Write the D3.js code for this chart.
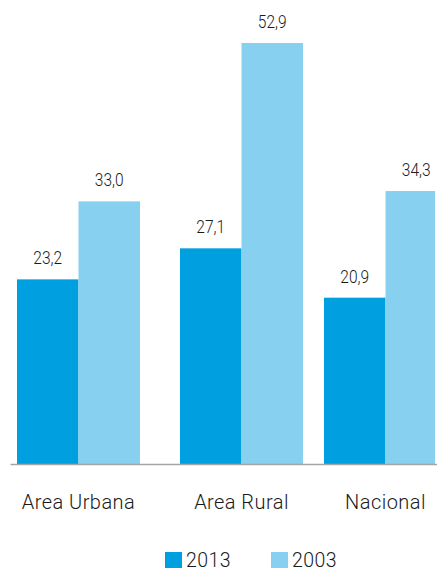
<!DOCTYPE html>
<html><head><meta charset="utf-8">
<script src="https://cdn.jsdelivr.net/npm/d3@7"></script>
<style>
body{margin:0;background:#fff;}
svg{display:block;}
</style></head>
<body>
<svg id="chart" width="437" height="568"></svg>
<script>
const categories = ["Area Urbana", "Area Rural", "Nacional"];
const series = ["2013", "2003"];
const values2013 = [23.2, 27.1, 20.9];
const values2003 = [33.0, 52.9, 34.3];
const valueLabels2013 = ["23,2", "27,1", "20,9"];
const valueLabels2003 = ["33,0", "52,9", "34,3"];

const colors = {"2013": "#009fdf", "2003": "#88d0ef"};
const W = 437, H = 568;
const baseY = 464;
const svg = d3.select("#chart");
const font = "Roboto, 'Liberation Sans', Arial, sans-serif";

const y = d3.scaleLinear().domain([0, 52.9]).range([baseY, 43]);
const x0 = d3.scaleOrdinal().domain(categories).range([17, 180, 324]);
const x1 = d3.scaleBand().domain(series).range([0, 123]).padding(0);

svg.append("defs").append("clipPath").attr("id","clip")
  .append("rect").attr("x",0).attr("y",0).attr("width",435).attr("height",H);

const data = categories.map((c,i)=>({
  cat:c,
  vals:[{s:"2013", v:values2013[i], l:valueLabels2013[i]},{s:"2003", v:values2003[i], l:valueLabels2003[i]}]
}));

const g = svg.append("g").attr("clip-path","url(#clip)");
const groups = g.selectAll("g.grp").data(data).enter().append("g")
  .attr("transform", d=>`translate(${x0(d.cat)},0)`);
groups.selectAll("rect").data(d=>d.vals).enter().append("rect")
  .attr("x", d=>x1(d.s)).attr("width", x1.bandwidth())
  .attr("y", d=>y(d.v)).attr("height", d=>baseY - y(d.v))
  .attr("fill", d=>colors[d.s]);

// value labels (condensed look)
const lg = svg.append("g");
data.forEach(d=>{
  d.vals.forEach(v=>{
    const cx = x0(d.cat) + x1(v.s) + x1.bandwidth()/2;
    lg.append("text")
      .attr("transform", `translate(${cx},${y(v.v) - 15}) scale(0.84,1)`)
      .attr("text-anchor","middle")
      .attr("font-family", font)
      .attr("font-weight", 300)
      .attr("font-size", 18.5)
      .attr("fill","#1a1a1a")
      .text(v.l);
  });
});

// axis baseline
const xAxis = d3.axisBottom(d3.scaleLinear().range([10, W])).ticks(0).tickSize(0).tickFormat("");
const ax = svg.append("g").attr("transform",`translate(0,${baseY})`).call(xAxis);
ax.select(".domain").attr("stroke","#a5a5a5").attr("stroke-width",1.6);

// category labels
svg.append("g").selectAll("text").data(categories).enter().append("text")
  .attr("x", d=>x0(d) + 61.5)
  .attr("y", 509)
  .attr("text-anchor","middle")
  .attr("font-family", font)
  .attr("font-weight", 300)
  .attr("font-size", 20)
  .attr("letter-spacing", 0.45)
  .attr("fill","#1a1a1a")
  .text(d=>d);

// legend
const legX = d3.scaleOrdinal().domain(series).range([165, 271]);
const leg = svg.append("g").selectAll("g").data(series).enter().append("g")
  .attr("transform", d=>`translate(${legX(d)},552)`);
leg.append("rect").attr("width",17).attr("height",17).attr("fill", d=>colors[d]);
leg.append("text").attr("x",21).attr("y",14.5)
  .attr("font-family", font).attr("font-weight", 300)
  .attr("font-size", 19.5).attr("letter-spacing", 0.4).attr("fill","#1a1a1a").text(d=>d);
</script>
</body></html>
